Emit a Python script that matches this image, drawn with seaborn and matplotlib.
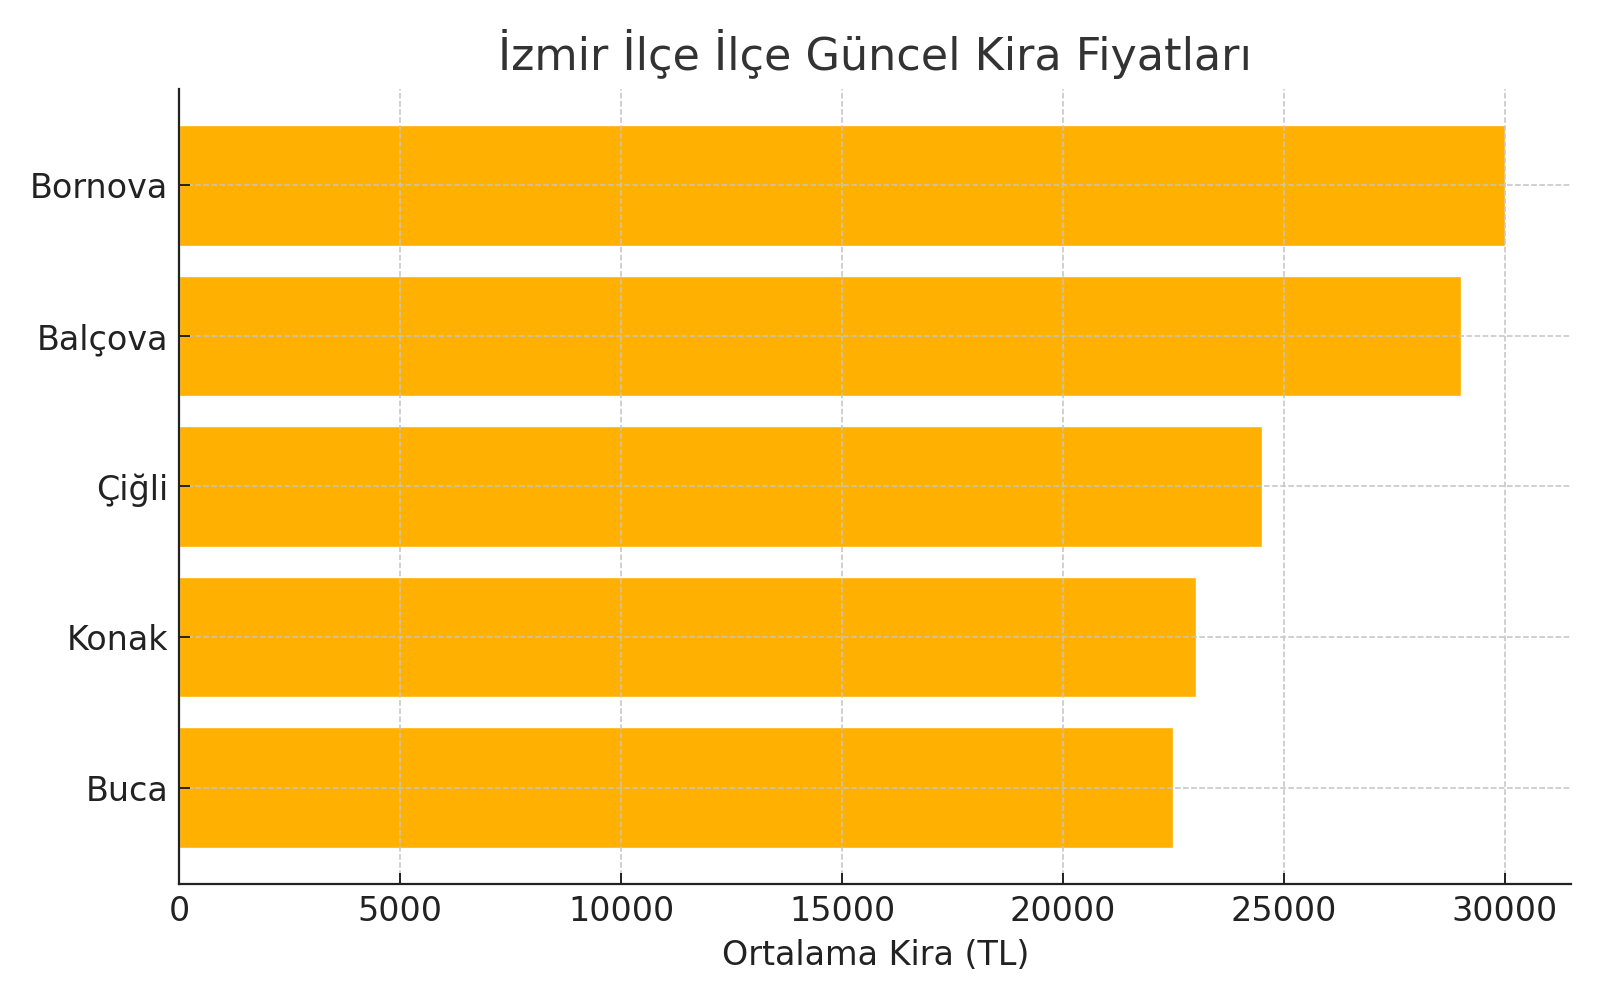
import matplotlib
matplotlib.use("Agg")
import matplotlib.pyplot as plt
import seaborn as sns
import pandas as pd

districts = ["Bornova", "Balçova", "Çiğli", "Konak", "Buca"]
rents = [30000, 29000, 24500, 23000, 22500]
title = "İzmir İlçe İlçe Güncel Kira Fiyatları"
xlabel = "Ortalama Kira (TL)"

sns.set_theme(style="white")
plt.rcParams['font.family'] = ['DejaVu Sans']

df = pd.DataFrame({"ilce": districts, "kira": rents})

fig, ax = plt.subplots(figsize=(16, 10), dpi=100)
fig.subplots_adjust(left=0.112, right=0.982, top=0.911, bottom=0.116)

sns.barplot(data=df, x="kira", y="ilce", orient="h", color="#FFB000",
            saturation=1, width=0.8, ax=ax)

ax.set_title(title, fontsize=32, color="#333333", pad=14)
ax.set_xlabel(xlabel, fontsize=24, color="#222222", labelpad=8)
ax.set_ylabel("")
ax.tick_params(axis="both", labelsize=24, colors="#222222", length=8, width=1.4,
               direction="in", left=True, bottom=True, pad=8)
ax.set_xticks([0, 5000, 10000, 15000, 20000, 25000, 30000])
ax.set_xlim(0, 31500)
ax.set_ylim(4.64, -0.64)
ax.grid(True, linestyle="--", color="#c4c4c4", linewidth=1.1)
ax.set_axisbelow(False)
for s in ["top", "right"]:
    ax.spines[s].set_visible(False)
for s in ["left", "bottom"]:
    ax.spines[s].set_color("#222222")
    ax.spines[s].set_linewidth(1.6)
    ax.spines[s].set_zorder(5)

fig.savefig("out.png", dpi=100)
